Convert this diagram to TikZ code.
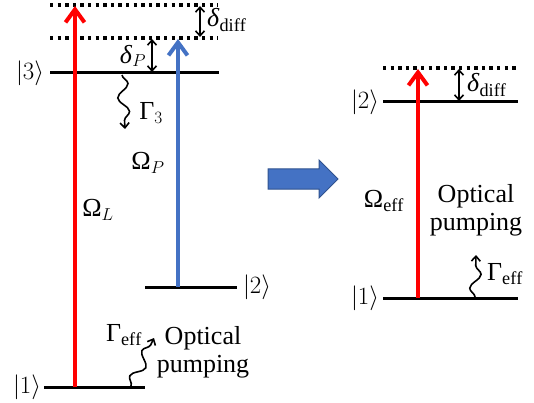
\documentclass[tikz,border=0pt]{standalone}
\usepackage{fontspec}
\setmainfont{Liberation Serif}
\usetikzlibrary{arrows.meta,decorations.pathmorphing}

\definecolor{pumpblue}{RGB}{68,114,196}
\definecolor{pumpedge}{RGB}{47,82,143}

\begin{document}
\begin{tikzpicture}[x=1pt,y=-1pt,
          every node/.style={font=\fontsize{26}{28}\selectfont, inner sep=0pt},
          level/.style={line width=3pt},
          virtual/.style={line width=3.4pt, dash pattern=on 3.4pt off 4.2pt},
          laser/.style={line width=4pt, -{Straight Barb[length=13pt,width=19pt]}},
          gap/.style={line width=1.6pt, {Straight Barb[length=5pt,width=9pt]}-{Straight Barb[length=5pt,width=9pt]}},
          decay/.style={line width=1.6pt, -{Straight Barb[length=5pt,width=9pt]}, decorate,
                        decoration={snake, amplitude=5.5pt, segment length=28pt, post length=6pt}}
        ]
          \useasboundingbox (0,0) rectangle (534,403);

          % Niveaus links
          \coordinate (v2l) at (50,5);   \coordinate (v2r) at (218,5);
          \coordinate (v1l) at (50,38);  \coordinate (v1r) at (218,38);
          \coordinate (e3l) at (50,73);  \coordinate (e3r) at (219,73);
          \coordinate (e2l) at (145,287); \coordinate (e2r) at (237,287);
          \coordinate (e1l) at (44,387); \coordinate (e1r) at (145,387);
          \draw[virtual] (v2l) -- (v2r);
          \draw[virtual] (v1l) -- (v1r);
          \draw[level] (e3l) -- (e3r);
          \draw[level] (e2l) -- (e2r);
          \draw[level] (e1l) -- (e1r);
          \node (k3) at (30,73) {$|3\rangle$};
          \node (k2) at (257,287) {$|2\rangle$};
          \node (k1) at (27,387) {$|1\rangle$};

          % Laser links
          \coordinate (lb) at (75,387);  \coordinate (lt) at (75,6);
          \coordinate (pb) at (178,287); \coordinate (pt) at (178,39);
          \draw[laser, red] (lb) -- (lt);
          \draw[laser, pumpblue] (pb) -- (pt);
          \node (omL) at (98,210) {Ω$_{L}$};
          \node (omP) at (148,163) {Ω$_{P}$};

          % Verstimmungen links
          \coordinate (d1t) at (200,6);  \coordinate (d1b) at (200,37);
          \coordinate (d2t) at (152,39); \coordinate (d2b) at (152,72);
          \draw[gap] (d1t) -- (d1b);
          \draw[gap] (d2t) -- (d2b);
          \node[anchor=west] (ddiff) at (207,20) {\textit{δ}$_{\mathrm{diff}}$};
          \node (dP) at (133,56) {\textit{δ}$_{P}$};

          % Zerfall links
          \coordinate (g3a) at (122,75);  \coordinate (g3b) at (125,129);
          \draw[decay] (g3a) -- (g3b);
          \node (G3) at (151,113) {Γ$_{3}$};
          \coordinate (gea) at (131,386); \coordinate (geb) at (154,338);
          \draw[decay] (gea) -- (geb);
          \node (Gel) at (124,335) {Γ$_{\mathrm{eff}}$};
          \node[align=center] (opl) at (203,352) {Optical\\pumping};

          % Pfeil
          \draw[fill=pumpblue, draw=pumpedge, line width=1pt]
            (268,169) -- (319,169) -- (319,160) -- (338,179) -- (319,198) -- (319,189) -- (268,189) -- cycle;

          % Niveaus rechts
          \coordinate (rvl) at (383,68);  \coordinate (rvr) at (518,68);
          \coordinate (r2l) at (383,102); \coordinate (r2r) at (518,102);
          \coordinate (r1l) at (383,298); \coordinate (r1r) at (518,298);
          \draw[virtual] (rvl) -- (rvr);
          \draw[level] (r2l) -- (r2r);
          \draw[level] (r1l) -- (r1r);
          \node (rk2) at (365,102) {$|2\rangle$};
          \node (rk1) at (365,298) {$|1\rangle$};

          % Laser rechts
          \coordinate (eb) at (418,298); \coordinate (et) at (418,69);
          \draw[laser, red] (eb) -- (et);
          \node (omE) at (384,201) {Ω$_{\mathrm{eff}}$};

          % Verstimmung und Zerfall rechts
          \coordinate (rdt) at (459,69); \coordinate (rdb) at (459,101);
          \draw[gap] (rdt) -- (rdb);
          \node[anchor=west] (rdiff) at (467,85) {\textit{δ}$_{\mathrm{diff}}$};
          \coordinate (rga) at (475,297); \coordinate (rgb) at (476,255);
          \draw[decay] (rga) -- (rgb);
          \node (Ger) at (505,274) {Γ$_{\mathrm{eff}}$};
          \node[align=center] (opr) at (476,210) {Optical\\pumping};
        \end{tikzpicture}
\end{document}
